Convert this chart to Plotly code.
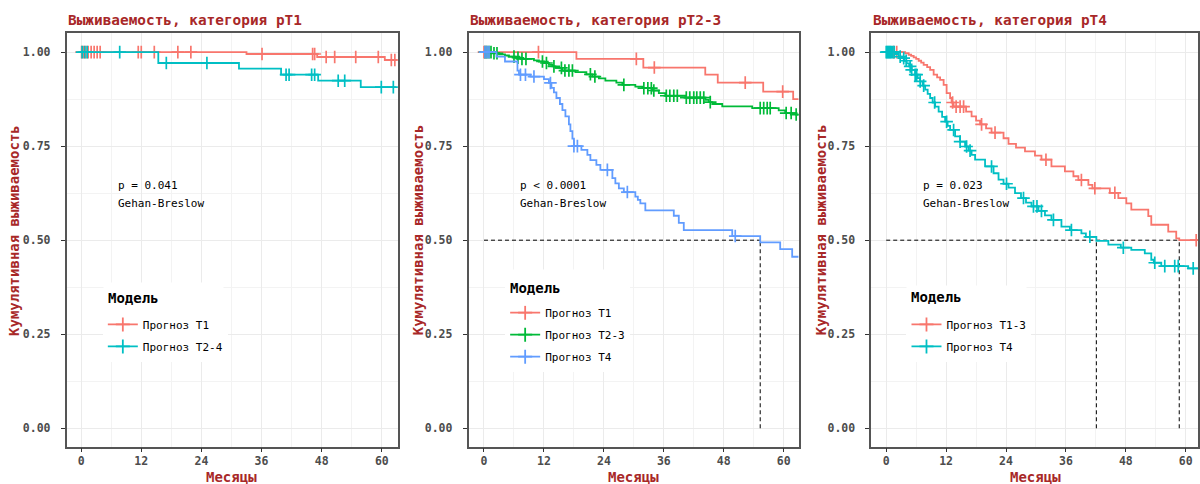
import numpy as np
import plotly.graph_objects as go

# ---------------- DATA ----------------
# Panel 1: pT1
p1_t1_time = [0, 33.0, 47.1, 60.6, 62.8]
p1_t1_surv = [1.0, 0.995, 0.987, 0.979, 0.979]
p1_t1_cens = [0.1, 0.5, 0.9, 1.4, 2.0, 2.6, 3.2, 3.8, 11.4, 12.0, 14.6, 19.3, 21.9,
              36.1, 46.2, 46.6, 48.9, 50.6, 54.8, 59.3, 61.9, 62.6]
p1_t24_time = [0, 15.4, 31.5, 39.9, 47.3, 55.8, 62.8]
p1_t24_surv = [1.0, 0.971, 0.956, 0.940, 0.924, 0.907, 0.907]
p1_t24_cens = [0.2, 0.7, 1.2, 7.7, 17.0, 25.1, 40.9, 41.5, 46.0, 46.6, 51.3, 52.6, 59.9, 62.3]

# Panel 2: pT2-3
p2_t1_time = [0, 18.5, 31.9, 44.3, 46.8, 55.9, 61.9, 63.0]
p2_t1_surv = [1.0, 0.982, 0.959, 0.940, 0.919, 0.895, 0.875, 0.875]
p2_t1_cens = [0.0, 0.4, 10.9, 30.5, 34.1, 52.3, 59.8]
p2_t23_time = [0, 1.5, 3.0, 4.2, 5.0, 6.3, 7.5, 10.0, 11.0, 12.0, 13.0, 13.7, 14.3, 15.7,
               18.3, 20.5, 21.7, 23.0, 24.3, 26.5, 27.7, 30.3, 31.7, 33.7, 35.0, 36.3,
               40.3, 44.3, 45.0, 45.7, 47.7, 53.7, 59.0, 60.3, 62.5, 63.0]
p2_t23_surv = [1.0, 0.997, 0.994, 0.991, 0.988, 0.985, 0.982, 0.978, 0.975, 0.971, 0.966,
               0.962, 0.958, 0.951, 0.947, 0.941, 0.935, 0.930, 0.924, 0.919, 0.913, 0.908,
               0.904, 0.898, 0.891, 0.884, 0.879, 0.873, 0.867, 0.862, 0.856, 0.851, 0.845,
               0.838, 0.834, 0.834]
p2_t23_cens = [0.2, 0.6, 1.0, 1.4, 2.0, 2.6, 6.0, 6.8, 7.6, 8.4, 11.7, 12.5, 14.0, 15.5, 16.2,
               17.0, 17.7, 21.3, 22.2, 28.0, 32.0, 32.8, 33.5, 34.0, 36.5, 37.2, 38.0, 38.7,
               40.5, 41.2, 42.0, 42.6, 43.3, 44.0, 45.3, 55.3, 56.0, 56.7, 57.3, 60.5, 61.5, 62.5]
p2_t4_time = [0, 2.5, 4.2, 6.7, 7.0, 9.3, 12.0, 13.0, 13.5, 14.0, 14.5, 15.2, 15.7, 16.3, 17.0,
              17.3, 17.7, 18.0, 19.5, 20.7, 21.3, 22.5, 23.3, 25.7, 26.3, 27.0, 28.0, 30.3,
              30.8, 31.3, 32.3, 38.0, 39.0, 40.0, 49.7, 55.3, 59.3, 61.7, 63.0]
p2_t4_surv = [1.0, 0.988, 0.975, 0.951, 0.940, 0.935, 0.928, 0.918, 0.905, 0.893, 0.878, 0.862,
              0.846, 0.829, 0.808, 0.790, 0.770, 0.750, 0.740, 0.727, 0.713, 0.700, 0.687,
              0.665, 0.651, 0.638, 0.628, 0.616, 0.607, 0.598, 0.579, 0.565, 0.546, 0.527,
              0.511, 0.494, 0.476, 0.456, 0.456]
p2_t4_cens = [0.2, 0.6, 1.0, 7.3, 8.3, 10.0, 13.3, 18.0, 18.7, 24.7, 28.7, 50.3]
p2_median = [55.3]

# Panel 3: pT4
p3_t13_time = [0, 3.8, 4.5, 5.0, 5.5, 6.0, 6.5, 7.0, 7.5, 8.2, 8.8, 9.5, 10.2, 10.8, 11.5, 12.1,
               12.8, 13.1, 13.5, 16.0, 17.1, 18.0, 18.8, 20.0, 21.1, 23.5, 24.5, 26.0, 27.8,
               29.8, 31.1, 33.1, 35.8, 37.5, 38.5, 40.5, 41.3, 44.8, 46.5, 48.1, 49.1, 52.5,
               53.1, 56.5, 58.1, 58.7, 62.5]
p3_t13_surv = [1.0, 0.997, 0.993, 0.990, 0.986, 0.982, 0.977, 0.972, 0.966, 0.960, 0.953, 0.940,
               0.933, 0.926, 0.913, 0.891, 0.878, 0.866, 0.855, 0.842, 0.829, 0.818, 0.808,
               0.797, 0.786, 0.771, 0.756, 0.746, 0.736, 0.725, 0.714, 0.696, 0.683, 0.670,
               0.660, 0.647, 0.638, 0.626, 0.612, 0.598, 0.581, 0.564, 0.541, 0.523, 0.505,
               0.500, 0.500]
p3_t13_cens = [1.5, 2.1, 13.3, 14.0, 14.8, 15.5, 19.1, 21.8, 32.0, 39.1, 41.8, 45.8, 62.1]
p3_t4_time = [0, 1.8, 2.5, 3.1, 3.6, 4.1, 4.6, 5.1, 5.8, 6.3, 6.8, 7.3, 7.8, 8.3, 8.8, 9.3, 9.8,
              10.5, 11.2, 11.8, 12.3, 12.8, 13.8, 14.8, 15.8, 16.5, 17.1, 17.8, 19.8, 21.5,
              22.5, 23.5, 24.5, 25.8, 27.0, 28.0, 29.1, 30.5, 31.8, 33.1, 35.1, 36.8, 39.1,
              40.0, 42.1, 44.5, 47.0, 49.1, 51.8, 53.1, 53.6, 55.1, 60.5, 62.5]
p3_t4_surv = [1.0, 0.995, 0.988, 0.984, 0.977, 0.970, 0.962, 0.953, 0.940, 0.931, 0.922, 0.911,
              0.900, 0.889, 0.878, 0.866, 0.855, 0.842, 0.828, 0.815, 0.804, 0.793, 0.776,
              0.762, 0.749, 0.738, 0.727, 0.714, 0.696, 0.678, 0.661, 0.650, 0.640, 0.625,
              0.612, 0.600, 0.590, 0.578, 0.566, 0.554, 0.536, 0.527, 0.518, 0.509, 0.498,
              0.488, 0.480, 0.474, 0.465, 0.448, 0.440, 0.431, 0.425, 0.425]
p3_t4_cens = [0.0, 0.2, 0.4, 0.6, 0.8, 1.0, 1.3, 1.6, 2.8, 3.5, 4.0, 4.8, 5.1, 5.8, 6.1, 6.8,
              7.5, 9.7, 12.1, 13.5, 14.8, 16.1, 16.8, 21.1, 24.1, 27.5, 29.5, 30.2, 31.1,
              33.5, 37.1, 40.8, 47.5, 53.8, 55.8, 57.8, 58.5, 61.5]
p3_median = [42.1, 58.7]

titles = ["Выживаемость, категория pT1", "Выживаемость, категория pT2-3",
          "Выживаемость, категория pT4"]
pvals = ["p = 0.041", "p < 0.0001", "p = 0.023"]
test_name = "Gehan-Breslow"
legend_title = "Модель"
x_ticks = [0, 12, 24, 36, 48, 60]
y_ticks = [0.0, 0.25, 0.5, 0.75, 1.0]

# ---------------- STYLE ----------------
RED, TEAL, GREEN, BLUE = "#F8766D", "#00BFC4", "#00BA38", "#619CFF"
MONO = "DejaVu Sans Mono"
DARKRED = "#A82828"
W, H = 1200, 484


def px(x):
    return x / W


def py(y):
    return 1 - y / H


# legend box: left, top, title centre y, first entry y
panels = [
    dict(dom=[66.7, 398.5], rng=[-2.9, 63.2], series=[
        ("Прогноз T1", RED, p1_t1_time, p1_t1_surv, p1_t1_cens),
        ("Прогноз T2-4", TEAL, p1_t24_time, p1_t24_surv, p1_t24_cens)],
        median=[], leg=(103, 282.7, 297.7, 324), ptext_x=116, ytitle_x=14, xtitle_x=232),
    dict(dom=[469.3, 800], rng=[-3.1, 63.0], series=[
        ("Прогноз T1", RED, p2_t1_time, p2_t1_surv, p2_t1_cens),
        ("Прогноз T2-3", GREEN, p2_t23_time, p2_t23_surv, p2_t23_cens),
        ("Прогноз T4", BLUE, p2_t4_time, p2_t4_surv, p2_t4_cens)],
        median=p2_median, leg=(506, 270, 287.7, 312.3), ptext_x=519.3, ytitle_x=419,
        xtitle_x=634.5),
    dict(dom=[872.7, 1200], rng=[-3.0, 62.46], series=[
        ("Прогноз T1-3", RED, p3_t13_time, p3_t13_surv, p3_t13_cens),
        ("Прогноз T4", TEAL, p3_t4_time, p3_t4_surv, p3_t4_cens)],
        median=p3_median, leg=(908, 286, 297.3, 324), ptext_x=922.7, ytitle_x=822.5,
        xtitle_x=1037),
]

Y_TOP, Y_BOT = 33.3, 446.7
Y_RANGE = [-0.049, 1.05]
LEG_OFFSET = 32.3  # legend top -> first entry centre (with blank title row)
LEG_W = 125

fig = go.Figure()
layout = dict(width=W, height=H, margin=dict(l=0, r=0, t=0, b=0),
              paper_bgcolor="white", plot_bgcolor="white", showlegend=True,
              annotations=[])


def step_value(times, surv, t):
    i = int(np.searchsorted(np.asarray(times), t, side="right")) - 1
    return surv[max(i, 0)]


for k, p in enumerate(panels):
    n = "" if k == 0 else str(k + 1)
    xa, ya = "x" + n, "y" + n
    leg = "legend" + n
    if p["median"]:
        fig.add_trace(go.Scatter(x=[0, max(p["median"])], y=[0.5, 0.5], mode="lines",
                                 line=dict(color="black", width=1, dash="4px,3px"),
                                 xaxis=xa, yaxis=ya, showlegend=False, hoverinfo="skip"))
        for m in p["median"]:
            fig.add_trace(go.Scatter(x=[m, m], y=[0, 0.5], mode="lines",
                                     line=dict(color="black", width=1, dash="4px,3px"),
                                     xaxis=xa, yaxis=ya, showlegend=False, hoverinfo="skip"))
    for j, (name, col, t, s, c) in enumerate(p["series"]):
        fig.add_trace(go.Scatter(x=t, y=s, mode="lines", line=dict(color=col, width=1.8, shape="hv"),
                                 xaxis=xa, yaxis=ya, showlegend=False, name=name))
        cy = [step_value(t, s, ci) for ci in c]
        fig.add_trace(go.Scatter(x=c, y=cy, mode="markers",
                                 marker=dict(symbol="cross-thin", size=9,
                                             line=dict(color=col, width=1.7), color=col),
                                 xaxis=xa, yaxis=ya, showlegend=False, name=name))
        fig.add_trace(go.Scatter(x=[None], y=[None], mode="lines+markers", name=name,
                                 line=dict(color=col, width=1.8),
                                 marker=dict(symbol="cross-thin", size=10,
                                             line=dict(color=col, width=1.8), color=col),
                                 xaxis=xa, yaxis=ya, legend=leg, legendgroup=f"{k}_{j}",
                                 showlegend=True))
    axis_common = dict(showline=True, mirror=True, linecolor="#555555", linewidth=1.5,
                       ticks="outside", ticklen=4, tickcolor="#333333", tickwidth=1,
                       showgrid=True, gridcolor="#EBEBEB", gridwidth=1, zeroline=False,
                       tickfont=dict(family=MONO, size=11.5, color="#4D4D4D", weight="bold"))
    layout["xaxis" + n] = dict(axis_common, domain=[px(p["dom"][0]), px(p["dom"][1])],
                               range=p["rng"], anchor=ya, tickvals=x_ticks,
                               ticklabelstandoff=-1,
                               minor=dict(dtick=6, tick0=0, showgrid=True, gridcolor="#F3F3F3",
                                          gridwidth=0.6, ticks=""))
    layout["yaxis" + n] = dict(axis_common, domain=[py(Y_BOT), py(Y_TOP)], range=Y_RANGE,
                               anchor=xa, tickvals=y_ticks, tickformat=".2f",
                               ticklabelstandoff=8,
                               minor=dict(dtick=0.125, tick0=0, showgrid=True, gridcolor="#F3F3F3",
                                          gridwidth=0.6, ticks=""))
    lx, ltop, ltitle_y, lfirst = p["leg"]
    layout[leg] = dict(x=px(lx), y=py(lfirst - LEG_OFFSET), xanchor="left",
                       yanchor="top", bgcolor="white", borderwidth=0,
                       title=dict(text=" ", font=dict(family=MONO, size=14, color="black",
                                                      weight="bold")),
                       font=dict(family=MONO, size=11, color="black"),
                       itemwidth=30, tracegroupgap=3)
    ann = layout["annotations"]
    ann.append(dict(text=legend_title, x=px(lx), y=py(ltitle_y), xref="paper", yref="paper",
                    xanchor="left", yanchor="middle", showarrow=False, align="left",
                    width=LEG_W - 14, height=2 * (ltitle_y - ltop) - 8, borderpad=4,
                    bgcolor="white",
                    font=dict(family=MONO, size=14, color="black", weight="bold")))
    ann.append(dict(text=titles[k], x=px(p["dom"][0] - 0.5), y=py(20), xref="paper", yref="paper",
                    xanchor="left", yanchor="middle", showarrow=False,
                    font=dict(family=MONO, size=14.4, color=DARKRED, weight="bold")))
    ann.append(dict(text=pvals[k], x=px(p["ptext_x"]), y=py(185.7), xref="paper", yref="paper",
                    xanchor="left", yanchor="middle", showarrow=False,
                    font=dict(family=MONO, size=11, color="black")))
    ann.append(dict(text=test_name, x=px(p["ptext_x"]), y=py(203.3), xref="paper", yref="paper",
                    xanchor="left", yanchor="middle", showarrow=False,
                    font=dict(family=MONO, size=11, color="black")))
    ann.append(dict(text="Кумулятивная выживаемость", x=px(p["ytitle_x"]), y=py(230),
                    xref="paper", yref="paper", xanchor="center", yanchor="middle",
                    textangle=-90, showarrow=False,
                    font=dict(family=MONO, size=14, color=DARKRED, weight="bold")))
    ann.append(dict(text="Месяцы", x=px(p["xtitle_x"]), y=py(476.7), xref="paper", yref="paper",
                    xanchor="center", yanchor="middle", showarrow=False,
                    font=dict(family=MONO, size=14, color=DARKRED, weight="bold")))

fig.update_layout(**layout)
fig.write_html("out.html")
